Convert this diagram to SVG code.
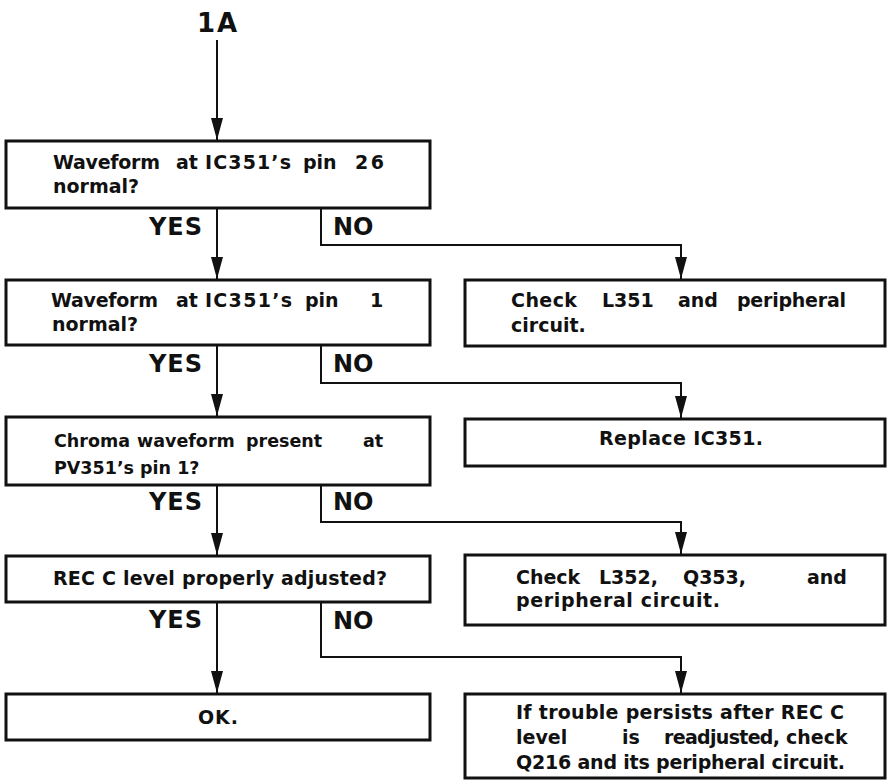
<svg xmlns="http://www.w3.org/2000/svg" width="892" height="783" viewBox="0 0 892 783">
  <style>
    .box { fill: #fff; stroke: #111; stroke-width: 3; }
    .wire { fill: none; stroke: #111; stroke-width: 2; }
    text { font-family: "DejaVu Sans", "Liberation Sans", Arial, sans-serif; font-weight: bold; fill: #111; }
    .t { font-size: 19px; }
    .s { font-size: 17.5px; }
    .yn { font-size: 24px; }
  </style>
  <defs>
    <!-- slim filled arrowhead, tip at the end of the wire -->
    <marker id="arrow" markerUnits="userSpaceOnUse" markerWidth="23" markerHeight="13" refX="22" refY="6.5" orient="auto" viewBox="0 0 23 13">
      <path d="M0,0.5 L22,6.5 L0,12.5 Z" fill="#111"/>
    </marker>
  </defs>

  <!-- entry label -->
  <text x="197" y="32" font-size="26" textLength="40">1A</text>

  <!-- connectors -->
  <g id="connectors">
    <path class="wire" d="M217,40 V140" marker-end="url(#arrow)"/>
    <path class="wire" d="M217,208 V279" marker-end="url(#arrow)"/>
    <path class="wire" d="M321,208 V245 H681 V279" marker-end="url(#arrow)"/>
    <path class="wire" d="M217,345 V416" marker-end="url(#arrow)"/>
    <path class="wire" d="M321,345 V383 H681 V418" marker-end="url(#arrow)"/>
    <path class="wire" d="M217,485 V555" marker-end="url(#arrow)"/>
    <path class="wire" d="M321,485 V522 H681 V554" marker-end="url(#arrow)"/>
    <path class="wire" d="M217,602 V693" marker-end="url(#arrow)"/>
    <path class="wire" d="M321,602 V657 H681 V693" marker-end="url(#arrow)"/>
  </g>

  <!-- branch labels -->
  <g id="labels">
    <text class="yn" x="149" y="235" textLength="53">YES</text>
    <text class="yn" x="333" y="235">NO</text>
    <text class="yn" x="149" y="372" textLength="53">YES</text>
    <text class="yn" x="333" y="372">NO</text>
    <text class="yn" x="149" y="510" textLength="53">YES</text>
    <text class="yn" x="333" y="510">NO</text>
    <text class="yn" x="149" y="628" textLength="53">YES</text>
    <text class="yn" x="333" y="629">NO</text>
  </g>

  <!-- decision column -->
  <g id="q-pin26">
    <rect class="box" x="6" y="141" width="424" height="67"/>
    <text class="t" x="53" y="169" textLength="107">Waveform</text>
    <text class="t" x="176" y="169">at</text>
    <text class="t" x="205" y="169" textLength="86">IC351’s</text>
    <text class="t" x="303" y="169">pin</text>
    <text class="t" x="355" y="169" textLength="29">26</text>
    <text class="t" x="53" y="193">normal?</text>
  </g>
  <g id="q-pin1">
    <rect class="box" x="6" y="280" width="424" height="65"/>
    <text class="t" x="51" y="307" textLength="107">Waveform</text>
    <text class="t" x="176" y="307">at</text>
    <text class="t" x="205" y="307" textLength="87">IC351’s</text>
    <text class="t" x="305" y="307">pin</text>
    <text class="t" x="370" y="307">1</text>
    <text class="t" x="52" y="331">normal?</text>
  </g>
  <g id="q-chroma">
    <rect class="box" x="6" y="417" width="424" height="68"/>
    <text class="s" x="54" y="447">Chroma</text>
    <text class="s" x="137" y="447">waveform</text>
    <text class="s" x="246" y="447">present</text>
    <text class="s" x="363" y="447">at</text>
    <text class="s" x="54" y="474">PV351’s pin 1?</text>
  </g>
  <g id="q-recc">
    <rect class="box" x="6" y="556" width="424" height="46"/>
    <text class="t" x="53" y="585" textLength="334">REC C level properly adjusted?</text>
  </g>
  <g id="ok">
    <rect class="box" x="6" y="694" width="424" height="46"/>
    <text class="t" x="198" y="724" textLength="40">OK.</text>
  </g>

  <!-- action column -->
  <g id="a-l351">
    <rect class="box" x="465" y="280" width="420" height="66"/>
    <text class="t" x="511" y="307" textLength="66">Check</text>
    <text class="t" x="602" y="307">L351</text>
    <text class="t" x="678" y="307">and</text>
    <text class="t" x="737" y="307" textLength="109">peripheral</text>
    <text class="t" x="511" y="332">circuit.</text>
  </g>
  <g id="a-ic351">
    <rect class="box" x="465" y="419" width="420" height="47"/>
    <text class="t" x="599" y="445" textLength="164">Replace IC351.</text>
  </g>
  <g id="a-l352">
    <rect class="box" x="465" y="555" width="420" height="70"/>
    <text class="t" x="516" y="584">Check</text>
    <text class="t" x="599" y="584">L352,</text>
    <text class="t" x="683" y="584">Q353,</text>
    <text class="t" x="807" y="584">and</text>
    <text class="t" x="516" y="607" textLength="204">peripheral circuit.</text>
  </g>
  <g id="a-q216">
    <rect class="box" x="465" y="694" width="420" height="84"/>
    <text class="t" x="516" y="719" textLength="328">If trouble persists after REC C</text>
    <text class="t" x="516" y="744">level</text>
    <text class="t" x="622" y="744">is</text>
    <text class="t" x="664" y="744" textLength="116">readjusted,</text>
    <text class="t" x="786" y="744">check</text>
    <text class="t" x="516" y="769" textLength="329">Q216 and its peripheral circuit.</text>
  </g>
</svg>
